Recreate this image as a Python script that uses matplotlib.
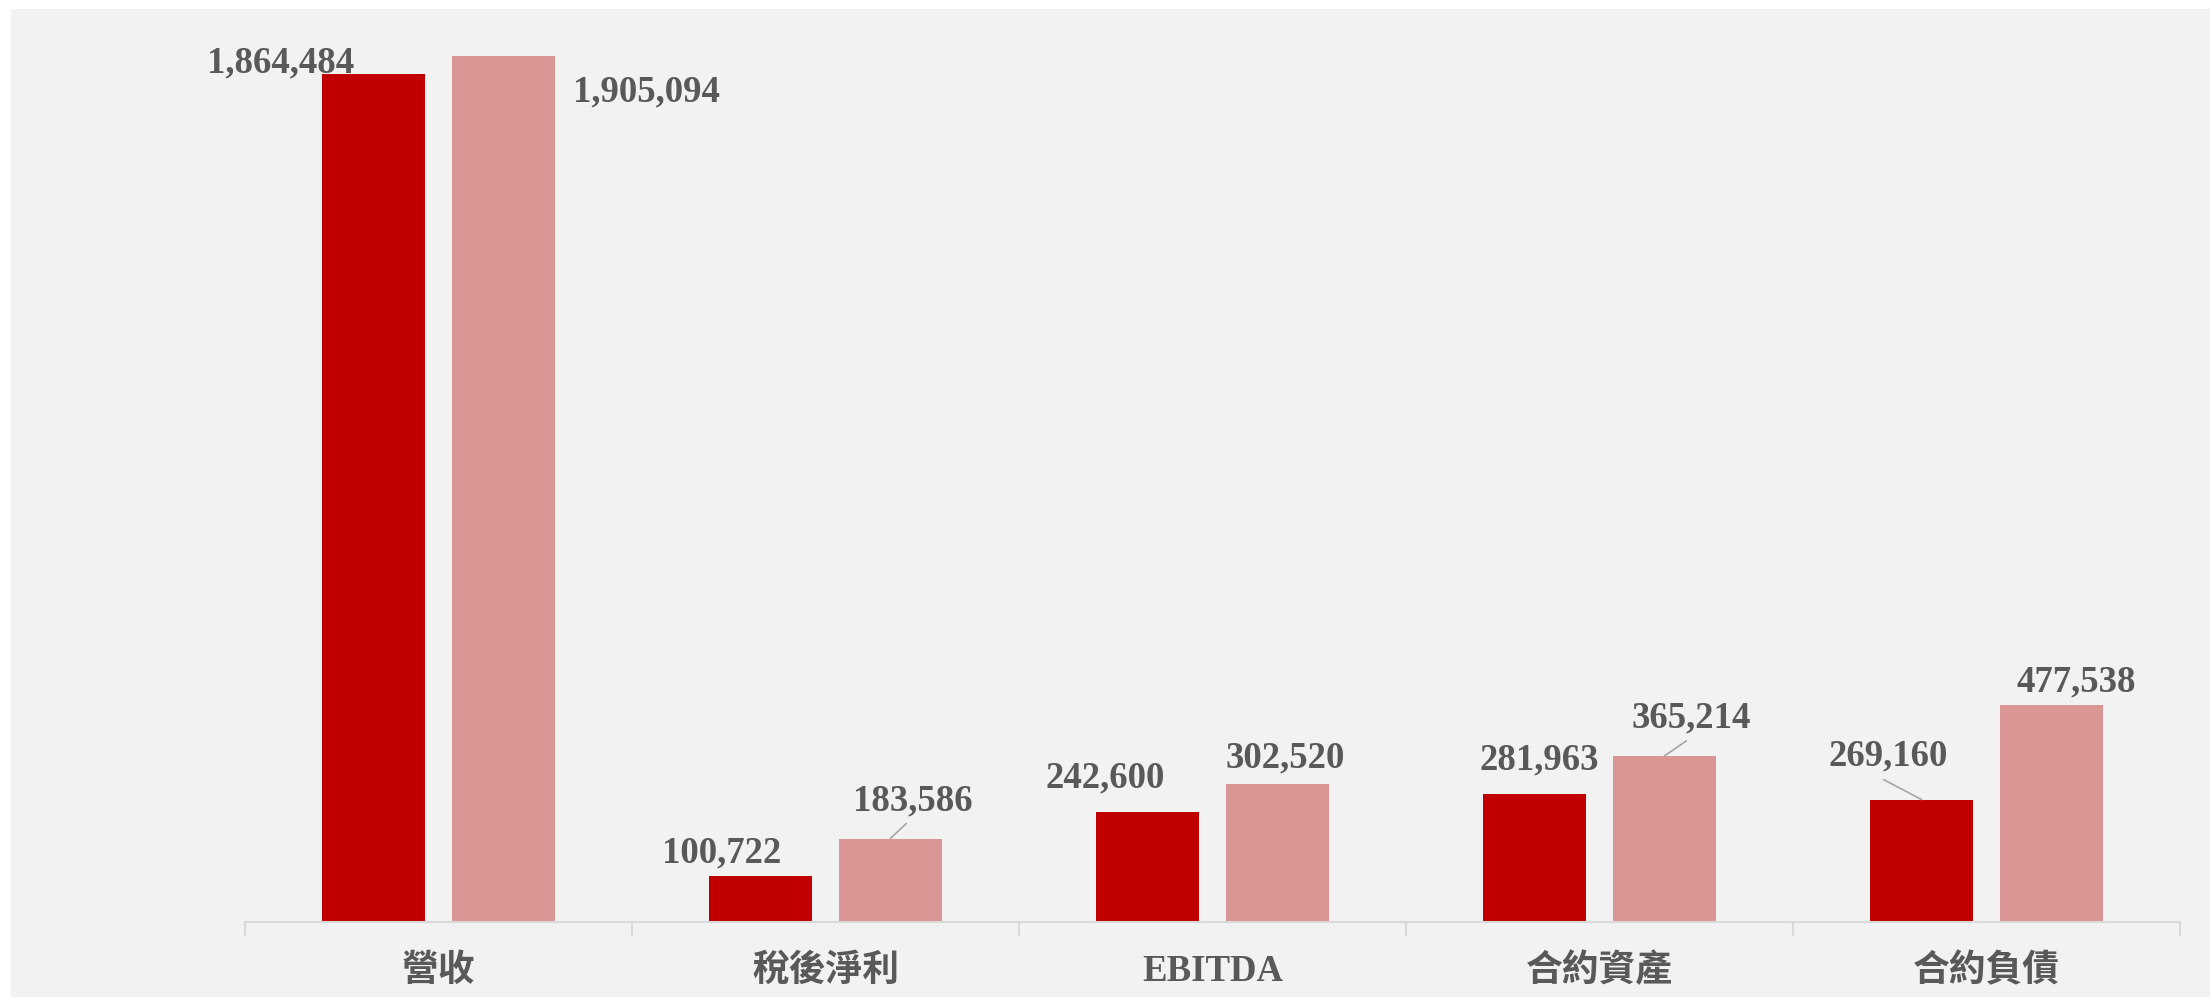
import numpy as np
import matplotlib.pyplot as plt
from matplotlib.patches import Rectangle

categories = ['營收', '稅後淨利', 'EBITDA', '合約資產', '合約負債']
series_a = [1864484, 100722, 242600, 281963, 269160]
series_b = [1905094, 183586, 302520, 365214, 477538]

# label offsets from the bar top, in pixels (dx, baseline dy)
off_a = [(-93, 2), (-39, 14), (-42, 24), (5, 24), (-33, 34)]
off_b = [(143, -46), (22, 28), (8, 17), (27, 28), (25, 13)]
# leader lines for a few labels: (series, index) -> end of line in pixels
leaders = {('b', 1): (16, 15), ('b', 3): (22, 15), ('a', 4): (-38, 20)}

RED = '#C00000'
PINK = '#D99694'
TXT = '#595959'
GRID = '#D9D9D9'
FONT = ['Liberation Serif', 'Noto Sans CJK TC']

fig = plt.figure(figsize=(22.1, 9.97), dpi=100)
fig.patch.set_facecolor('white')
# grey panel behind the chart
fig.add_artist(Rectangle((11 / 2210, 0), 1, 1 - 9 / 997, transform=fig.transFigure,
                         facecolor='#F2F2F2', edgecolor='none', zorder=-10))

ax = fig.add_axes([245 / 2210, 75 / 997, 1935 / 2210, 909.4 / 997])
ax.patch.set_alpha(0)

x = np.arange(len(categories))
w = 0.266
shift = 0.1675
bars_a = ax.bar(x - shift, series_a, w, color=RED, zorder=2)
bars_b = ax.bar(x + shift, series_b, w, color=PINK, zorder=2)

ax.set_xlim(-0.5, len(categories) - 0.5)
ax.set_ylim(0, 2000000)

for name, xs, vals, offs in [('a', x - shift, series_a, off_a), ('b', x + shift, series_b, off_b)]:
    for i, (xi, v, (dx, dy)) in enumerate(zip(xs, vals, offs)):
        ax.annotate(f'{v:,}', xy=(xi, v), xytext=(dx, dy), textcoords='offset pixels',
                    ha='center', va='baseline', fontsize=26.5, fontweight='bold',
                    color=TXT, family=FONT, zorder=3)
        if (name, i) in leaders:
            lx, ly = leaders[(name, i)]
            ax.annotate('', xy=(xi, v), xytext=(lx, ly), textcoords='offset pixels',
                        arrowprops=dict(arrowstyle='-', color='#A6A6A6', lw=1.2,
                                        shrinkA=0, shrinkB=0))

for s in ['top', 'right', 'left']:
    ax.spines[s].set_visible(False)
ax.spines['bottom'].set_color(GRID)
ax.spines['bottom'].set_linewidth(1.5)
ax.set_yticks([])

ax.set_xticks(x)
ax.set_xticklabels(categories, fontsize=26.5, fontweight='bold', color=TXT, family=FONT)
ax.tick_params(axis='x', which='major', length=0, pad=23)
ax.set_xticks(np.arange(-0.5, len(categories), 1), minor=True)
ax.tick_params(axis='x', which='minor', length=10, width=1.5, color=GRID, direction='out')

fig.savefig('out.png', dpi=100)
